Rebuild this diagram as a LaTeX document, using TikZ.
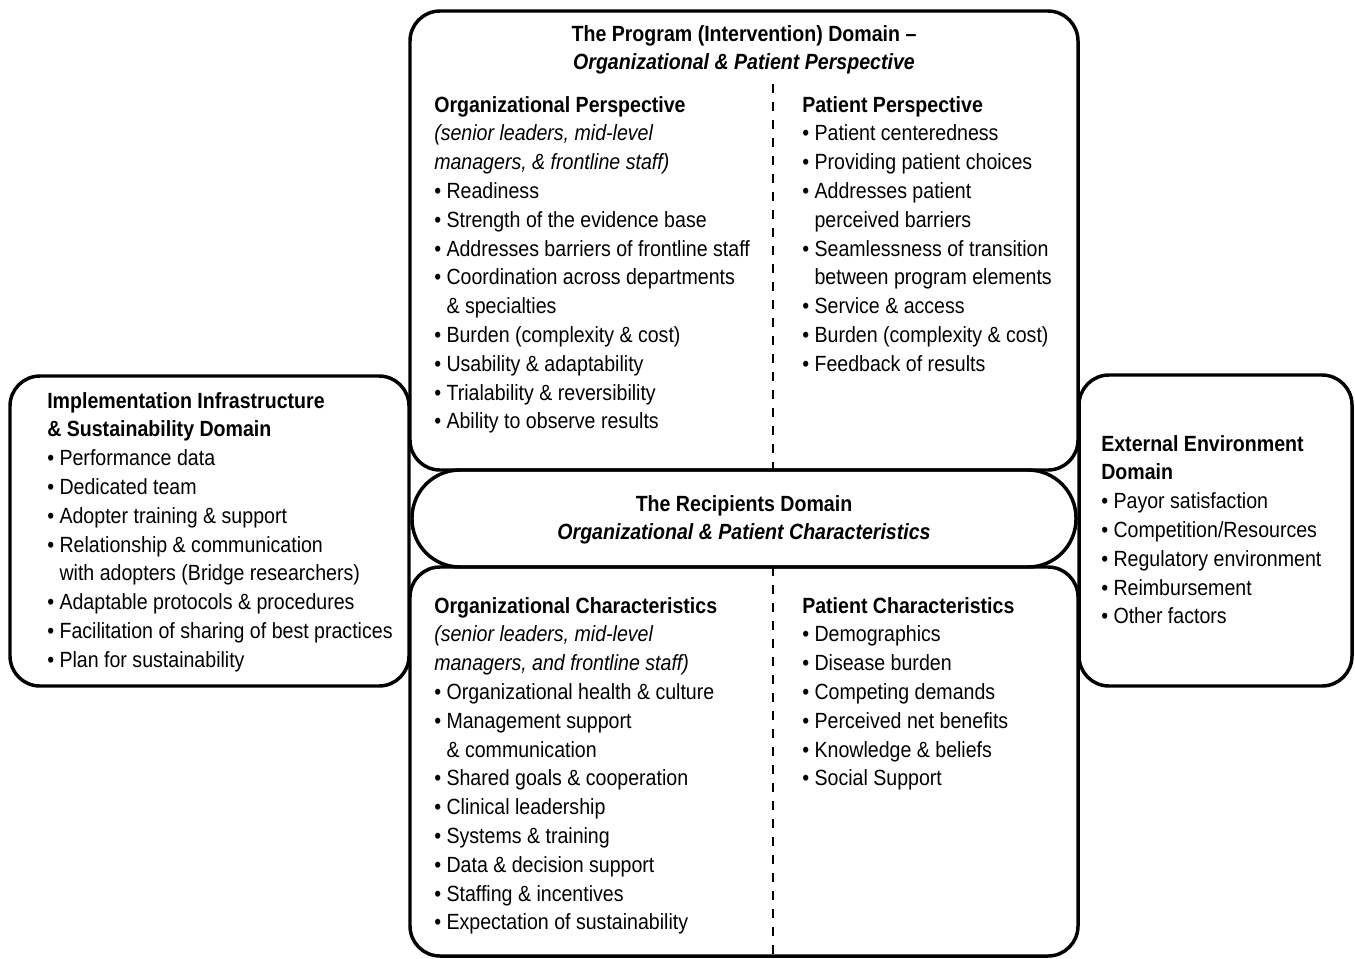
\documentclass[tikz,border=0pt]{standalone}
\usepackage{fontspec}
\setmainfont{Liberation Sans}[FakeStretch=0.89]
\usepackage{tikz}
\usetikzlibrary{positioning}

\newcommand{\itm}{\textbullet\ }
\newcommand{\cnt}{\phantom{\textbullet\ }}
\newcommand{\txtblock}[2][l]{\begin{tabular}[t]{@{}#1@{}}#2\end{tabular}}

\tikzset{
  domainbox/.style={line width=2.6pt, rounded corners=22.5pt},
  pillbox/.style={line width=2.6pt, rounded corners=36pt},
  divider/.style={line width=1.5pt, dash pattern=on 7pt off 6.5pt},
  txt/.style={anchor=base west, inner sep=0pt},
  ttl/.style={anchor=base, inner sep=0pt},
}

\begin{document}
\begin{tikzpicture}[x=0.75pt, y=-0.75pt, every node/.style={font=\fontsize{16.5}{21.6}\selectfont}]
  \useasboundingbox (0,0) rectangle (1355,958);

  % Domain boxes
  \draw[domainbox] (410,11) rectangle (1078,470);
  \draw[domainbox] (410,567) rectangle (1078,956);
  \draw[pillbox] (412,470) rectangle (1076,567);
  \draw[domainbox] (10,376) rectangle (409,686);
  \draw[domainbox] (1079,375) rectangle (1352,686);

  % Column dividers
  \draw[divider] (773,84) -- (773,470);
  \draw[divider] (773,567) -- (773,958);

  % Program domain
  \node[ttl] (program) at (744,41) {\txtblock[c]{\textbf{The Program (Intervention) Domain –}\\
    \textbf{\itshape Organizational \& Patient Perspective}}};
  \node[txt] (orgpersp) at (434,112) {\txtblock{\textbf{Organizational Perspective}\\
    {\itshape (senior leaders, mid-level}\\
    {\itshape managers, \& frontline staff)}\\
    \itm Readiness\\
    \itm Strength of the evidence base\\
    \itm Addresses barriers of frontline staff\\
    \itm Coordination across departments\\
    \cnt\& specialties\\
    \itm Burden (complexity \& cost)\\
    \itm Usability \& adaptability\\
    \itm Trialability \& reversibility\\
    \itm Ability to observe results}};
  \node[txt] (patpersp) at (802,112) {\txtblock{\textbf{Patient Perspective}\\
    \itm Patient centeredness\\
    \itm Providing patient choices\\
    \itm Addresses patient\\
    \cnt perceived barriers\\
    \itm Seamlessness of transition\\
    \cnt between program elements\\
    \itm Service \& access\\
    \itm Burden (complexity \& cost)\\
    \itm Feedback of results}};

  % Recipients domain
  \node[ttl] (recipients) at (744,511) {\txtblock[c]{\textbf{The Recipients Domain}\\
    \textbf{\itshape Organizational \& Patient Characteristics}}};
  \node[txt] (orgchar) at (434,613) {\txtblock{\textbf{Organizational Characteristics}\\
    {\itshape (senior leaders, mid-level}\\
    {\itshape managers, and frontline staff)}\\
    \itm Organizational health \& culture\\
    \itm Management support\\
    \cnt\& communication\\
    \itm Shared goals \& cooperation\\
    \itm Clinical leadership\\
    \itm Systems \& training\\
    \itm Data \& decision support\\
    \itm Staffing \& incentives\\
    \itm Expectation of sustainability}};
  \node[txt] (patchar) at (802,613) {\txtblock{\textbf{Patient Characteristics}\\
    \itm Demographics\\
    \itm Disease burden\\
    \itm Competing demands\\
    \itm Perceived net benefits\\
    \itm Knowledge \& beliefs\\
    \itm Social Support}};

  % Side domains
  \node[txt] (infra) at (47,408) {\txtblock{\textbf{Implementation Infrastructure}\\
    \textbf{\& Sustainability Domain}\\
    \itm Performance data\\
    \itm Dedicated team\\
    \itm Adopter training \& support\\
    \itm Relationship \& communication\\
    \cnt with adopters (Bridge researchers)\\
    \itm Adaptable protocols \& procedures\\
    \itm Facilitation of sharing of best practices\\
    \itm Plan for sustainability}};
  \node[txt] (external) at (1101,451) {\txtblock{\textbf{External Environment}\\
    \textbf{Domain}\\
    \itm Payor satisfaction\\
    \itm Competition/Resources\\
    \itm Regulatory environment\\
    \itm Reimbursement\\
    \itm Other factors}};
\end{tikzpicture}
\end{document}
